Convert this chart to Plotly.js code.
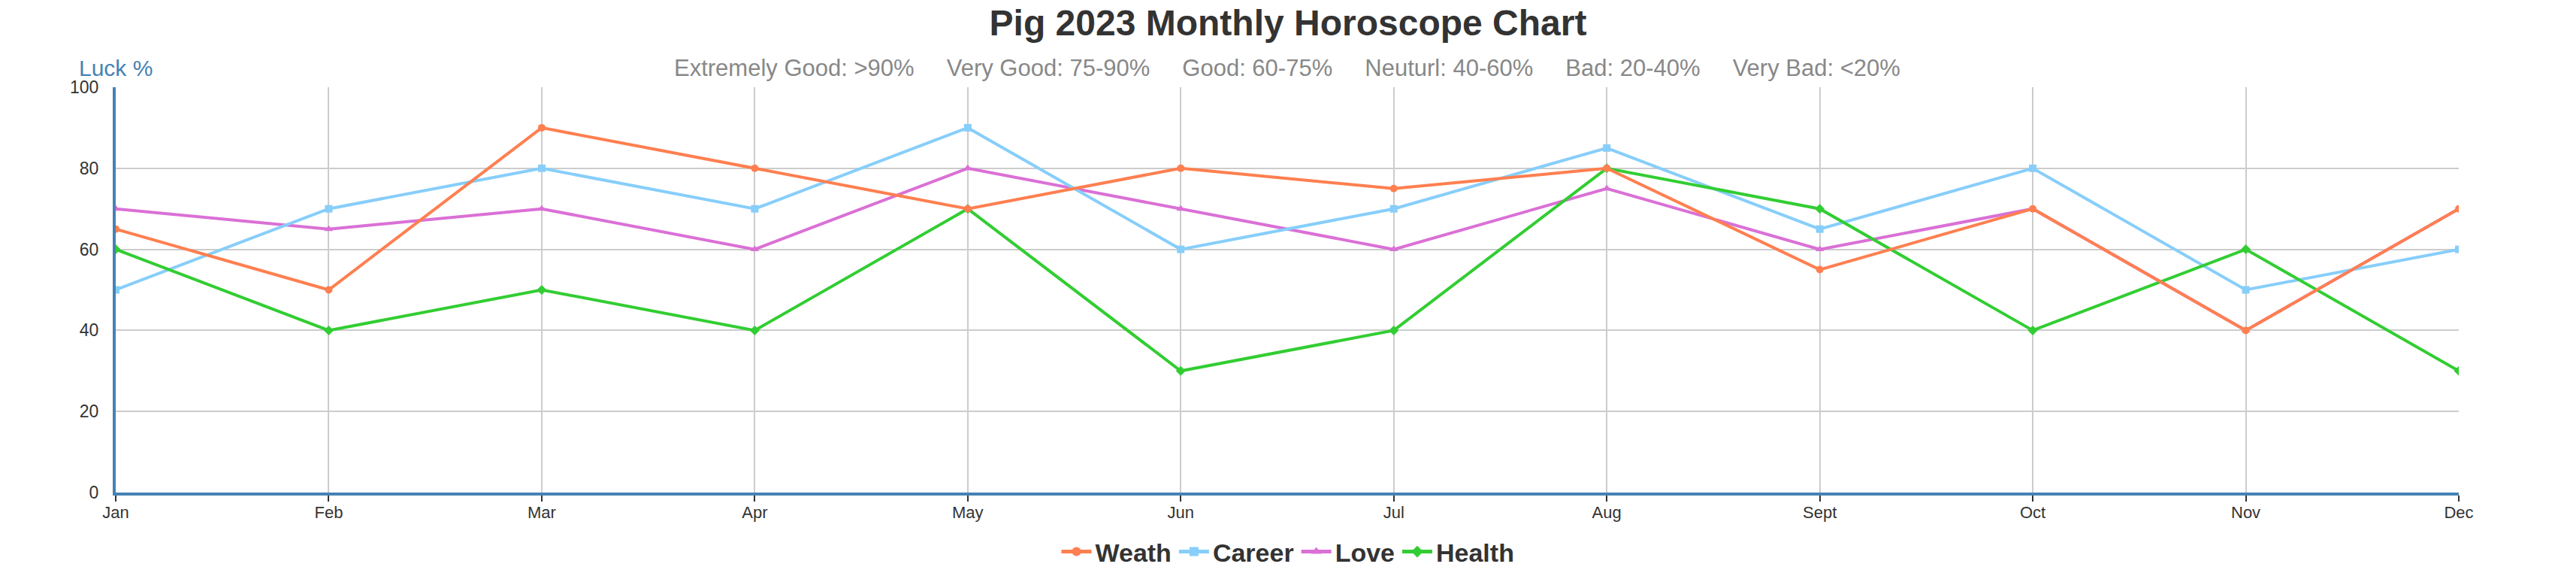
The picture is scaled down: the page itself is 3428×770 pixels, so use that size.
<!DOCTYPE html>
<html>
<head>
<meta charset="utf-8">
<script src="https://cdn.plot.ly/plotly-3.0.1.min.js"></script>
<style>
  html, body { margin: 0; padding: 0; background: #fff; }
  #chart { width: 3428px; height: 770px; }
</style>
</head>
<body>
<div id="chart"></div>
<script>
const months = ["Jan","Feb","Mar","Apr","May","Jun","Jul","Aug","Sept","Oct","Nov","Dec"];
const weath  = [65, 50, 90, 80, 70, 80, 75, 80, 55, 70, 40, 70];
const career = [50, 70, 80, 70, 90, 60, 70, 85, 65, 80, 50, 60];
const love   = [70, 65, 70, 60, 80, 70, 60, 75, 60, 70, 40, 70];
const health = [60, 40, 50, 40, 70, 30, 40, 80, 70, 40, 60, 30];
const yTicks = [0, 20, 40, 60, 80, 100];

const chartTitle = "Pig 2023 Monthly Horoscope Chart";
const subText = ["Extremely Good: >90%", "Very Good: 75-90%", "Good: 60-75%", "Neuturl: 40-60%", "Bad: 20-40%", "Very Bad: <20%"];
const yName = "Luck %";

const FONT = "Liberation Sans, Arial, sans-serif";

function series(name, values, color, symbol, rank) {
  return {
    type: "scatter",
    mode: "lines+markers",
    name: name,
    x: months,
    y: values,
    line: { color: color, width: 4 },
    marker: { color: color, size: 10, symbol: symbol },
    legendrank: rank,
    hoverinfo: "x+y+name"
  };
}

const data = [
  series("Love", love, "#DA70D6", "triangle-up", 3),
  series("Career", career, "#87CEFA", "square", 2),
  series("Health", health, "#32CD32", "diamond", 4),
  series("Weath", weath, "#FF7F50", "circle", 1)
];

const gap = "\u00A0\u00A0\u00A0\u00A0\u00A0";

const layout = {
  width: 3428,
  height: 770,
  margin: { l: 154, r: 156, t: 116, b: 115, pad: 0, autoexpand: false },
  paper_bgcolor: "#ffffff",
  plot_bgcolor: "#ffffff",
  font: { family: FONT, color: "#333333", size: 22 },
  title: {
    text: "<b>" + chartTitle + "</b>",
    font: { family: FONT, size: 48, color: "#333333" },
    x: 0.5, xanchor: "center",
    y: 1 - 30 / 770, yref: "container", yanchor: "middle"
  },
  showlegend: true,
  legend: {
    orientation: "h",
    x: 0.5, xanchor: "center", xref: "container",
    y: 1 - 734 / 770, yanchor: "middle", yref: "container",
    font: { family: FONT, size: 34, color: "#333333", weight: "bold" },
    traceorder: "normal",
    itemsizing: "constant",
    itemwidth: 40
  },
  xaxis: {
    type: "category",
    categoryorder: "array",
    categoryarray: months,
    range: [0, months.length - 1],
    showgrid: true,
    gridcolor: "#cccccc",
    gridwidth: 2,
    showline: true,
    linecolor: "#4682B4",
    linewidth: 4,
    ticks: "outside",
    ticklen: 8,
    tickwidth: 2,
    tickcolor: "#333333",
    ticklabelstandoff: -4,
    tickfont: { family: FONT, size: 22, color: "#333333" },
    zeroline: false,
    fixedrange: true
  },
  yaxis: {
    range: [0, 100],
    tickvals: yTicks,
    ticktext: yTicks.map(String),
    showgrid: true,
    gridcolor: "#cccccc",
    gridwidth: 2,
    showline: true,
    linecolor: "#4682B4",
    linewidth: 4,
    ticks: "",
    ticklabelstandoff: 14,
    tickfont: { family: FONT, size: 23, color: "#333333" },
    zeroline: false,
    fixedrange: true
  },
  annotations: [
    {
      text: subText.join(gap),
      xref: "paper", yref: "paper",
      x: 0.5, xanchor: "center",
      y: 1 + (116 - 90) / 539, yanchor: "middle",
      showarrow: false,
      font: { family: FONT, size: 31, color: "#888888" }
    },
    {
      text: yName,
      xref: "paper", yref: "paper",
      x: 0, xanchor: "center",
      y: 1 + (116 - 90) / 539, yanchor: "middle",
      showarrow: false,
      font: { family: FONT, size: 30, color: "#4682B4" }
    }
  ]
};

Plotly.newPlot("chart", data, layout, { displayModeBar: false, staticPlot: false });
</script>
</body>
</html>
